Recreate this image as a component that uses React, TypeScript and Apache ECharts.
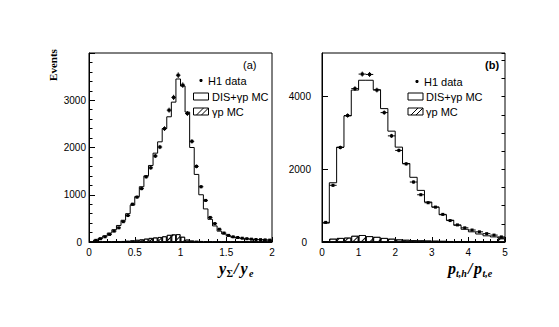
import { useEffect, useRef } from "react";
import * as echarts from "echarts";

// ---------- Panel (a): y_Sigma / y_e, bins of 0.05 ----------
const leftBins = [
  0.025, 0.075, 0.125, 0.175, 0.225, 0.275, 0.325, 0.375, 0.425, 0.475,
  0.525, 0.575, 0.625, 0.675, 0.725, 0.775, 0.825, 0.875, 0.925, 0.975,
  1.025, 1.075, 1.125, 1.175, 1.225, 1.275, 1.325, 1.375, 1.425, 1.475,
  1.525, 1.575, 1.625, 1.675, 1.725, 1.775, 1.825, 1.875, 1.925, 1.975,
];
const leftMC = [
  0, 40, 80, 130, 190, 260, 350, 460, 600, 780,
  960, 1170, 1400, 1620, 1880, 2120, 2400, 2650, 2960, 3450,
  3300, 2750, 2000, 1430, 1000, 700, 480, 340, 230, 170,
  125, 100, 82, 70, 62, 55, 50, 45, 40, 35,
];
const leftData = [
  null, 35, 70, 110, 160, 230, 300, 430, 560, 800,
  950, 1130, 1380, 1570, 1820, 2010, 2400, 2790, 3060, 3530,
  3320, 2720, 2130, 1600, 1170, 880, 520, 390, 270, 190,
  140, 110, 95, 80, 70, 60, 55, 50, 45, 40,
];
const leftGp = [
  0, 5, 5, 10, 10, 15, 15, 20, 25, 35,
  45, 55, 70, 85, 95, 105, 120, 150, 160, 165,
  110, 50, 30, 25, 20, 10, 10, 5, 5, 5,
  5, 5, 5, 5, 5, 5, 5, 5, 5, 5,
];

// ---------- Panel (b): p_t,h / p_t,e, bins of 0.2 ----------
const rightBins = [
  0.1, 0.3, 0.5, 0.7, 0.9, 1.1, 1.3, 1.5, 1.7, 1.9,
  2.1, 2.3, 2.5, 2.7, 2.9, 3.1, 3.3, 3.5, 3.7, 3.9,
  4.1, 4.3, 4.5, 4.7, 4.9,
];
const rightMC = [
  520, 1630, 2610, 3470, 4180, 4450, 4450, 4190, 3670, 3050,
  2610, 2160, 1780, 1420, 1100, 960, 750, 600, 460, 350,
  280, 220, 170, 140, 115,
];
const rightData = [
  540, 1560, 2600, 3480, 4220, 4620, 4610, 4180, 3560, 2920,
  2520, 2150, 1650, 1300, 1080, 960, 760, 590, 470, 390,
  330, 280, 230, 190, 140,
];
const rightGp = [
  20, 90, 110, 120, 170, 190, 160, 140, 110, 90,
  70, 60, 50, 45, 40, 35, 30, 25, 20, 20,
  15, 15, 10, 10, 100,
];

const LEFT_HALF = 0.025;
const RIGHT_HALF = 0.1;

const SANS = '"Liberation Sans", Arial, Helvetica, sans-serif';
const SERIF = '"Liberation Serif", "Times New Roman", serif';

function stepPoints(bins: number[], vals: number[], half: number) {
  const pts: number[][] = bins.map((b, i) => [b - half, vals[i]]);
  pts.push([bins[bins.length - 1] + half, vals[vals.length - 1]]);
  return pts;
}

function pointData(bins: number[], vals: (number | null)[], half: number) {
  const out: number[][] = [];
  bins.forEach((b, i) => {
    const v = vals[i];
    if (v == null) return;
    out.push([b, v, half, Math.sqrt(v)]);
  });
  return out;
}

const renderPoint = (_params: any, api: any) => {
  const x = api.value(0);
  const y = api.value(1);
  const hw = api.value(2);
  const e = api.value(3);
  const c = api.coord([x, y]);
  const l = api.coord([x - hw, y]);
  const r = api.coord([x + hw, y]);
  const t = api.coord([x, y + e]);
  const b = api.coord([x, y - e]);
  return {
    type: "group",
    children: [
      { type: "line", shape: { x1: l[0], y1: l[1], x2: r[0], y2: r[1] }, style: { stroke: "#000", lineWidth: 1 } },
      { type: "line", shape: { x1: t[0], y1: t[1], x2: b[0], y2: b[1] }, style: { stroke: "#000", lineWidth: 1 } },
      { type: "rect", shape: { x: c[0] - 1.5, y: c[1] - 1.5, width: 3, height: 3 }, style: { fill: "#000" } },
    ],
  };
};

const hatch = {
  symbol: "rect",
  symbolSize: 1,
  color: "#000",
  backgroundColor: "#fff",
  dashArrayX: [1, 0],
  dashArrayY: [1, 5],
  rotation: -Math.PI / 4,
};

function txt(text: string, x: number, y: number, font: string, align = "left", rotation = 0) {
  return {
    type: "text",
    x,
    y,
    rotation,
    style: {
      text,
      font,
      fill: "#000",
      align,
      textAlign: align,
      verticalAlign: "middle",
      textVerticalAlign: "middle",
    },
  };
}

function hatchBox(x: number, y: number) {
  return [
    { type: "rect", shape: { x, y, width: 15, height: 7 }, style: { fill: "#fff", stroke: "#000", lineWidth: 1 } },
    { type: "line", shape: { x1: x + 3, y1: y + 7, x2: x + 10, y2: y }, style: { stroke: "#000", lineWidth: 1 } },
    { type: "line", shape: { x1: x + 8, y1: y + 7, x2: x + 15, y2: y }, style: { stroke: "#000", lineWidth: 1 } },
  ];
}

export default function App() {
  const ref = useRef<HTMLDivElement>(null);

  useEffect(() => {
    if (!ref.current) return;
    const chart = echarts.init(ref.current, undefined, { renderer: "svg" });

    const axisLabelBase = { color: "#000", fontSize: 10, fontFamily: SANS };
    const yLabelFmt = (v: number) => (v === 0 ? "{z|0}" : String(v));
    const zRich = { z: { padding: [0, 4, 0, 0], color: "#000", fontSize: 10, fontFamily: SANS } };

    const legendFont = `11px ${SANS}`;
    const mainT = `bold italic 16px ${SERIF}`;
    const subT = `bold italic 10px ${SERIF}`;

    const option: any = {
      animation: false,
      backgroundColor: "#fff",
      grid: [
        { left: 89, top: 53, width: 183, height: 189, show: true, borderColor: "#000", borderWidth: 1, backgroundColor: "transparent" },
        { left: 322, top: 53, width: 183, height: 189, show: true, borderColor: "#000", borderWidth: 1, backgroundColor: "transparent" },
      ],
      xAxis: [
        {
          type: "value", gridIndex: 0, min: 0, max: 2, interval: 0.5,
          axisLine: { show: true, lineStyle: { color: "#000" } },
          axisTick: { show: true, inside: true, length: 5, lineStyle: { color: "#000" } },
          minorTick: { show: true, splitNumber: 5, length: 3, lineStyle: { color: "#000" } },
          splitLine: { show: false },
          axisLabel: { ...axisLabelBase, margin: 5 },
        },
        {
          type: "category", gridIndex: 0, data: leftBins.map(String), show: false, boundaryGap: true,
        },
        {
          type: "value", gridIndex: 1, min: 0, max: 5, interval: 1,
          axisLine: { show: true, lineStyle: { color: "#000" } },
          axisTick: { show: true, inside: true, length: 5, lineStyle: { color: "#000" } },
          minorTick: { show: true, splitNumber: 5, length: 3, lineStyle: { color: "#000" } },
          splitLine: { show: false },
          axisLabel: { ...axisLabelBase, margin: 5 },
        },
        {
          type: "category", gridIndex: 1, data: rightBins.map(String), show: false, boundaryGap: true,
        },
      ],
      yAxis: [
        {
          type: "value", gridIndex: 0, min: 0, max: 4000, interval: 1000,
          axisLine: { show: true, lineStyle: { color: "#000" } },
          axisTick: { show: true, inside: true, length: 6, lineStyle: { color: "#000" } },
          minorTick: { show: true, splitNumber: 5, length: 3.5, lineStyle: { color: "#000" } },
          splitLine: { show: false },
          axisLabel: { ...axisLabelBase, margin: 3, showMaxLabel: false, formatter: yLabelFmt, rich: zRich },
        },
        {
          type: "value", gridIndex: 1, min: 0, max: 5200, interval: 2000,
          axisLine: { show: true, lineStyle: { color: "#000" } },
          axisTick: { show: true, inside: true, length: 6, lineStyle: { color: "#000" } },
          splitLine: { show: false },
          axisLabel: { ...axisLabelBase, margin: 11, showMaxLabel: false, formatter: yLabelFmt, rich: zRich },
        },
        {
          type: "value", gridIndex: 1, min: 0, max: 5200, interval: 500,
          axisLine: { show: false },
          axisTick: { show: true, inside: true, length: 3.5, lineStyle: { color: "#000" } },
          splitLine: { show: false },
          axisLabel: { show: false },
        },
      ],
      series: [
        {
          type: "bar", xAxisIndex: 1, yAxisIndex: 0, data: leftGp,
          barCategoryGap: "0%", barWidth: "100%",
          itemStyle: { color: "#fff", borderColor: "#000", borderWidth: 0.8, decal: hatch },
          z: 1,
        },
        {
          type: "bar", xAxisIndex: 3, yAxisIndex: 1, data: rightGp,
          barCategoryGap: "0%", barWidth: "100%",
          itemStyle: { color: "#fff", borderColor: "#000", borderWidth: 0.8, decal: hatch },
          z: 1,
        },
        {
          type: "line", xAxisIndex: 0, yAxisIndex: 0, step: "end", symbol: "none",
          data: stepPoints(leftBins, leftMC, LEFT_HALF),
          lineStyle: { color: "#000", width: 1 }, z: 3,
        },
        {
          type: "line", xAxisIndex: 2, yAxisIndex: 1, step: "end", symbol: "none",
          data: stepPoints(rightBins, rightMC, RIGHT_HALF),
          lineStyle: { color: "#000", width: 1 }, z: 3,
        },
        {
          type: "custom", xAxisIndex: 0, yAxisIndex: 0, renderItem: renderPoint,
          encode: { x: 0, y: 1 }, data: pointData(leftBins, leftData, LEFT_HALF), z: 4,
        },
        {
          type: "custom", xAxisIndex: 2, yAxisIndex: 1, renderItem: renderPoint,
          encode: { x: 0, y: 1 }, data: pointData(rightBins, rightData, RIGHT_HALF), z: 4,
        },
      ],
      graphic: [
        // y-axis title
        txt("Events", 53, 65, `bold 11px ${SERIF}`, "center", Math.PI / 2),
        // x-axis title, panel (a)
        txt("y", 219, 268.5, mainT),
        txt("Σ", 226.5, 273, `bold 10px ${SERIF}`),
        txt("/", 234, 268.5, mainT),
        txt("y", 240.5, 268.5, mainT),
        txt("e", 249, 273, subT),
        // x-axis title, panel (b)
        txt("p", 448, 268.5, mainT),
        txt("t,h", 456, 273, subT),
        txt("/", 468, 268.5, mainT),
        txt("p", 474, 268.5, mainT),
        txt("t,e", 482.5, 273, subT),
        // legend (a)
        txt("(a)", 243, 65, legendFont),
        { type: "circle", shape: { cx: 201, cy: 80.5, r: 1.6 }, style: { fill: "#000" } },
        txt("H1 data", 208, 80.5, legendFont),
        { type: "rect", shape: { x: 193.5, y: 93, width: 15, height: 7 }, style: { fill: "#fff", stroke: "#000", lineWidth: 1 } },
        txt("DIS+γp MC", 212, 96.5, legendFont),
        ...hatchBox(193.5, 108),
        txt("γp MC", 212, 111.5, legendFont),
        // legend (b)
        txt("(b)", 485, 65, `bold 11px ${SANS}`),
        { type: "circle", shape: { cx: 417, cy: 81.5, r: 1.6 }, style: { fill: "#000" } },
        txt("H1 data", 424, 81.5, legendFont),
        { type: "rect", shape: { x: 408, y: 93, width: 15, height: 7 }, style: { fill: "#fff", stroke: "#000", lineWidth: 1 } },
        txt("DIS+γp MC", 426, 96.5, legendFont),
        ...hatchBox(408, 108),
        txt("γp MC", 426, 111.5, legendFont),
      ],
    };

    chart.setOption(option);
    return () => chart.dispose();
  }, []);

  return (
    <div
      ref={ref}
      style={{ position: "fixed", left: 0, top: 0, width: 559, height: 327, background: "#fff" }}
    />
  );
}
